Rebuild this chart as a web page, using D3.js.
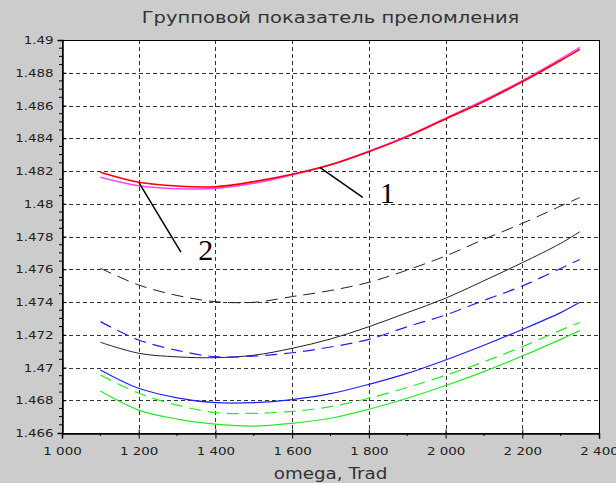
<!DOCTYPE html>
<html>
<head>
<meta charset="utf-8">
<script src="https://cdn.jsdelivr.net/npm/d3@7"></script>
<style>
  body { margin: 0; background: #cccccc; }
  svg text { font-family: "DejaVu Sans", sans-serif; fill: #222; }
</style>
</head>
<body>
<div id="chart"></div>
<script>
// omega values (Trad) where curves were sampled
const omega = [1100, 1200, 1300, 1400, 1500, 1600, 1700, 1800, 1900, 2000, 2100, 2200, 2300, 2350];

// group index curves
const nRed        = [1.48192, 1.48131, 1.48108, 1.48104, 1.48135, 1.48180, 1.48238, 1.48318, 1.48410, 1.48518, 1.48625, 1.48745, 1.48875, 1.48943];
const nMagenta    = [1.48162, 1.48110, 1.48092, 1.48094, 1.48125, 1.48176, 1.48238, 1.48320, 1.48414, 1.48522, 1.48632, 1.48752, 1.48885, 1.48955];
const nBlackDash  = [1.47606, 1.47504, 1.47440, 1.47402, 1.47398, 1.47433, 1.47470, 1.47520, 1.47595, 1.47681, 1.47783, 1.47880, 1.47986, 1.48038];
const nBlackSolid = [1.47154, 1.47087, 1.47065, 1.47060, 1.47075, 1.47117, 1.47174, 1.47249, 1.47335, 1.47423, 1.47530, 1.47640, 1.47758, 1.47829];
const nBlueDash   = [1.47280, 1.47168, 1.47105, 1.47066, 1.47070, 1.47090, 1.47125, 1.47172, 1.47249, 1.47321, 1.47410, 1.47498, 1.47605, 1.47660];
const nBlueSolid  = [1.46985, 1.46873, 1.46815, 1.46785, 1.46785, 1.46804, 1.46840, 1.46897, 1.46964, 1.47046, 1.47136, 1.47232, 1.47335, 1.47398];
const nGreenDash  = [1.46954, 1.46843, 1.46770, 1.46725, 1.46720, 1.46732, 1.46761, 1.46812, 1.46878, 1.46952, 1.47035, 1.47127, 1.47228, 1.47275];
const nGreenSolid = [1.46856, 1.46740, 1.46685, 1.46654, 1.46642, 1.46659, 1.46690, 1.46745, 1.46812, 1.46890, 1.46975, 1.47070, 1.47172, 1.47225];

// axis ticks
const xTicks = [1000, 1200, 1400, 1600, 1800, 2000, 2200, 2400];
const yTicks = [1.466, 1.468, 1.47, 1.472, 1.474, 1.476, 1.478, 1.48, 1.482, 1.484, 1.486, 1.488, 1.49];

// callout labels "1" and "2" (data units)
const callouts = [
  { label: "1", x1: 1672, y1: 1.48222, x2: 1784, y2: 1.48039, tx: 1848, ty: 1.48005 },
  { label: "2", x1: 1201, y1: 1.48127, x2: 1310, y2: 1.47705, tx: 1375, ty: 1.47656 }
];

const series = [
  { values: nBlackDash,  color: "#222",    width: 1,   dash: "12,7" },
  { values: nBlackSolid, color: "#222",    width: 1,   dash: null },
  { values: nBlueDash,   color: "#2020ff", width: 1.2, dash: "12,7" },
  { values: nBlueSolid,  color: "#2020ff", width: 1.2, dash: null },
  { values: nGreenDash,  color: "#22ee22", width: 1.2, dash: "12,7" },
  { values: nGreenSolid, color: "#22ee22", width: 1.2, dash: null },
  { values: nMagenta,    color: "#ff44ff", width: 1.6, dash: null },
  { values: nRed,        color: "#ff0000", width: 1.6, dash: null }
];

const width = 616, height = 483;
const margin = { left: 62, right: 599, top: 40, bottom: 433 };
const sx = 1.22; // text is drawn a bit stretched, like the original

const svg = d3.select("#chart").append("svg")
  .attr("width", width)
  .attr("height", height);

const x = d3.scaleLinear().domain([1000, 2400]).range([margin.left, margin.right]);
const y = d3.scaleLinear().domain([1.466, 1.49]).range([margin.bottom, margin.top]);

// plot area
svg.append("rect")
  .attr("x", margin.left).attr("y", margin.top)
  .attr("width", margin.right - margin.left).attr("height", margin.bottom - margin.top)
  .attr("fill", "#fff");

// dashed grid
const grid = svg.append("g").attr("stroke", "#333").attr("stroke-dasharray", "4,3").attr("stroke-width", 1);
grid.selectAll(".gx").data(xTicks.slice(1, -1)).enter().append("line")
  .attr("x1", d => Math.round(x(d)) + 0.5).attr("x2", d => Math.round(x(d)) + 0.5)
  .attr("y1", margin.top).attr("y2", margin.bottom);
grid.selectAll(".gy").data(yTicks.slice(1, -1)).enter().append("line")
  .attr("y1", d => Math.round(y(d)) + 0.5).attr("y2", d => Math.round(y(d)) + 0.5)
  .attr("x1", margin.left).attr("x2", margin.right);

// curves
const line = d3.line()
  .x((d, i) => x(omega[i]))
  .y(d => y(d))
  .curve(d3.curveCatmullRom);

svg.append("g").selectAll("path").data(series).enter().append("path")
  .attr("d", d => line(d.values))
  .attr("fill", "none")
  .attr("stroke", d => d.color)
  .attr("stroke-width", d => d.width)
  .attr("stroke-dasharray", d => d.dash);

// frame
svg.append("rect")
  .attr("x", margin.left + 0.5).attr("y", margin.top + 0.5)
  .attr("width", margin.right - margin.left).attr("height", margin.bottom - margin.top)
  .attr("fill", "none").attr("stroke", "#000");

// axes
const fmtX = d => d3.format(",")(d).replace(",", " ");
const fmtY = d => String(+d.toFixed(3));

const xAxis = svg.append("g")
  .attr("transform", `translate(0,${margin.bottom + 0.5})`)
  .call(d3.axisBottom(x).tickValues(xTicks).tickFormat(fmtX).tickSize(5).tickPadding(9));
const yAxis = svg.append("g")
  .attr("transform", `translate(${margin.left + 0.5},0)`)
  .call(d3.axisLeft(y).tickValues(yTicks).tickFormat(fmtY).tickSize(5).tickPadding(4));

[xAxis, yAxis].forEach(a => {
  a.select(".domain").attr("stroke", "#000").attr("stroke-width", 1.5);
  a.selectAll(".tick line").attr("stroke", "#000");
  a.selectAll("text").attr("font-size", 11).attr("fill", "#222")
    .attr("font-family", "DejaVu Sans, sans-serif");
});
// major ticks cross the axis
xAxis.selectAll(".tick line").attr("y1", -4);
yAxis.selectAll(".tick line").attr("x2", 4);
// stretch tick labels
xAxis.selectAll("text").attr("transform", `scale(${sx},1)`);
yAxis.selectAll("text").attr("x", -9 / sx).attr("transform", `scale(${sx},1)`);

// minor ticks
const xMinor = d3.range(1100, 2400, 200);
svg.append("g").selectAll("line").data(xMinor).enter().append("line")
  .attr("x1", d => x(d)).attr("x2", d => x(d))
  .attr("y1", margin.bottom).attr("y2", margin.bottom + 3)
  .attr("stroke", "#000");
const yMinor = d3.range(1.4665, 1.49, 0.0005).filter(v => Math.abs(Math.round(v * 500) - v * 500) > 0.01);
svg.append("g").selectAll("line").data(yMinor).enter().append("line")
  .attr("y1", d => y(d)).attr("y2", d => y(d))
  .attr("x1", margin.left - 3).attr("x2", margin.left)
  .attr("stroke", "#000");

// callouts
const co = svg.append("g");
co.selectAll("line").data(callouts).enter().append("line")
  .attr("x1", d => x(d.x1)).attr("y1", d => y(d.y1))
  .attr("x2", d => x(d.x2)).attr("y2", d => y(d.y2))
  .attr("stroke", "#000").attr("stroke-width", 1.5);
co.selectAll("text").data(callouts).enter().append("text")
  .attr("x", d => x(d.tx)).attr("y", d => y(d.ty))
  .attr("text-anchor", "middle")
  .attr("font-size", 30)
  .style("font-family", "'Liberation Serif', serif")
  .style("fill", "#000")
  .text(d => d.label);

// title and axis label
svg.append("text")
  .attr("transform", `translate(${(margin.left + margin.right) / 2},23) scale(${sx},1)`)
  .attr("text-anchor", "middle")
  .attr("font-size", 16)
  .style("fill", "#333")
  .text("Групповой показатель преломления");

svg.append("text")
  .attr("transform", `translate(${(margin.left + margin.right) / 2},479) scale(${sx},1)`)
  .attr("text-anchor", "middle")
  .attr("font-size", 15)
  .style("fill", "#333")
  .text("omega, Trad");
</script>
</body>
</html>
